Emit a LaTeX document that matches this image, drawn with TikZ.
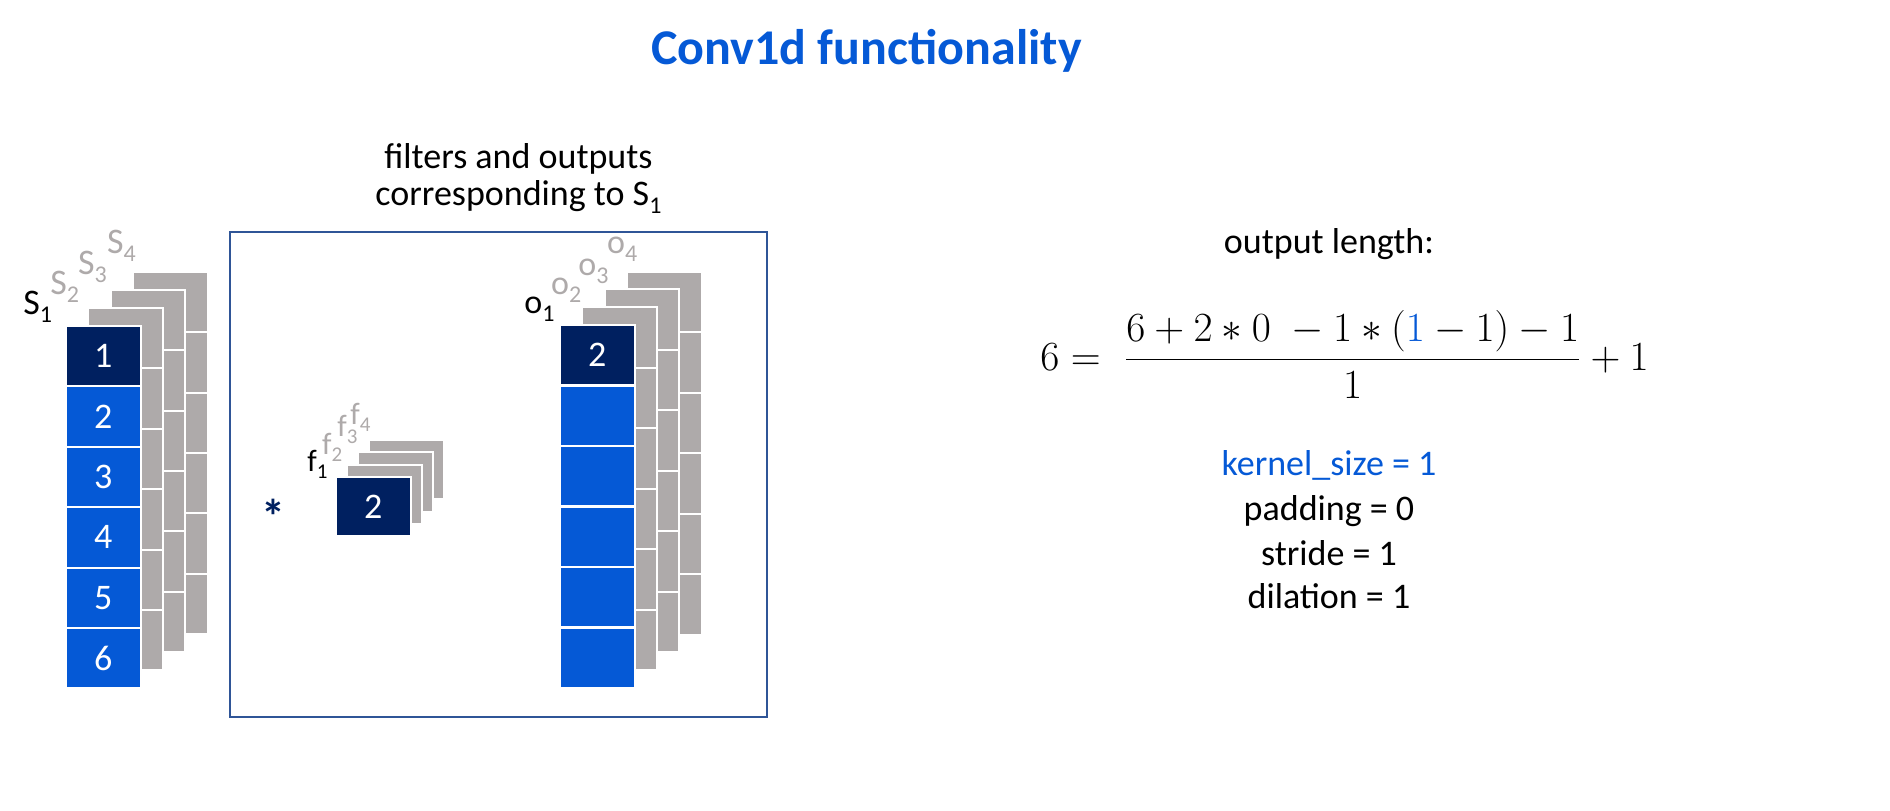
\documentclass[tikz,border=0pt]{standalone}
\usepackage{fontspec}
\setmainfont{Carlito}
\definecolor{navy}{HTML}{002060}
\definecolor{cblue}{HTML}{0559D6}
\definecolor{cgray}{HTML}{AEAAAA}
\definecolor{boxblue}{HTML}{2F5597}
\newcommand\subs[1]{\raisebox{-4pt}{\fontsize{12}{12}\selectfont #1}}
\newcommand\fsub[1]{\raisebox{-3.6pt}{\fontsize{10.5}{10.5}\selectfont #1}}
\begin{document}
\begin{tikzpicture}[x=0.5pt,y=-0.5pt,
  cellbox/.style={draw=white, line width=1pt, minimum width=37.3pt, minimum height=30.2pt, inner sep=0pt, text=white, font=\fontsize{18}{18}\selectfont},
  fcellbox/.style={cellbox, minimum height=29.7pt},
  backcell/.style={fill=cgray, draw=white, line width=1pt},
  lab/.style={anchor=base west, inner sep=0pt, font=\fontsize{18}{18}\selectfont},
  olab/.style={anchor=base west, inner sep=0pt, font=\fontsize{17}{17}\selectfont},
  flab/.style={anchor=base west, inner sep=0pt, font=\fontsize{15.5}{15.5}\selectfont},
  txt/.style={anchor=base, inner sep=0pt, font=\fontsize{18}{18}\selectfont}]
\useasboundingbox (0,0) rectangle (1890,810);

% title
\node[anchor=base, inner sep=0pt, font=\fontsize{25}{25}\selectfont\bfseries, text=cblue] (title) at (866.5,64) {Conv1d functionality};

% frame
\draw[boxblue, line width=1.2pt] (230,232) rectangle (767,717);
\node[txt] (cap1) at (518.5,168.3) {filters and outputs};
\node[txt] (cap2) at (518.5,205) {corresponding to S\subs{1}};

% input stack
\foreach \k in {3,2,1}
  \foreach \i in {0,...,5}
    \draw[backcell] ({66+22.4*\k},{326-18.1*\k+60.4*\i}) rectangle ++(74.6,60.4);
\node[cellbox, fill=navy] (s1) at (103.3,356.2) {1};
\foreach \i in {2,...,6}
  \node[cellbox, fill=cblue] (s\i) at (103.3,{356.2+60.4*(\i-1)}) {\i};
\node[lab] (S1) at (23,314) {S\subs{1}};
\node[lab, text=cgray] (S2) at (50,294.3) {S\subs{2}};
\node[lab, text=cgray] (S3) at (77.7,274) {S\subs{3}};
\node[lab, text=cgray] (S4) at (106.7,253.3) {S\subs{4}};

% filter stack
\foreach \k in {3,2,1}
  \draw[backcell] ({336+11*\k},{477-12.4*\k}) rectangle ++(74.7,59.4);
\node[fcellbox, fill=navy] (f1box) at (373.3,506.7) {2};
\node[flab] (f1) at (307,471.7) {f\fsub{1}};
\node[flab, text=cgray] (f2) at (321.7,454) {f\fsub{2}};
\node[flab, text=cgray] (f3) at (337,436.7) {f\fsub{3}};
\node[flab, text=cgray] (f4) at (350,424.4) {f\fsub{4}};
\node[inner sep=0pt, font=\fontsize{24}{24}\selectfont\bfseries, text=navy] (star) at (273.7,516) {*};

% output stack
\foreach \k in {3,2,1}
  \foreach \i in {0,...,5}
    \draw[backcell] ({560+22.4*\k},{325-17.8*\k+60.5*\i}) rectangle ++(74.4,60.5);
\node[cellbox, fill=navy] (o1box) at (597.2,355.2) {2};
\foreach \i in {2,...,6}
  \node[cellbox, fill=cblue] (o\i box) at (597.2,{355.2+60.5*(\i-1)}) {};
\node[olab] (o1) at (524,313.3) {o\subs{1}};
\node[olab, text=cgray] (o2) at (550.7,294) {o\subs{2}};
\node[olab, text=cgray] (o3) at (578,275) {o\subs{3}};
\node[olab, text=cgray] (o4) at (606.7,253) {o\subs{4}};

% right side
\node[txt] (olen) at (1329,253.3) {output length:};
\node[anchor=base west, inner sep=0pt, font=\fontsize{20}{20}\selectfont] (eq) at (1040,370)
  {$6=\;\displaystyle\frac{6+2\ast0\;-1\ast(\textcolor{cblue}{1}-1)-1}{1}+1$};
\node[txt, text=cblue] (ks) at (1329,475) {kernel\_size = 1};
\node[txt] (pad) at (1329,520) {padding = 0};
\node[txt] (str) at (1329,565) {stride = 1};
\node[txt] (dil) at (1329,608) {dilation = 1};
\end{tikzpicture}
\end{document}
